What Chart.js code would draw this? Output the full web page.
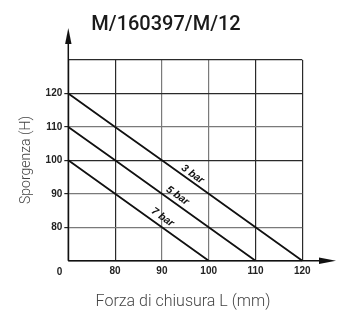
<!DOCTYPE html>
<html>
<head>
<meta charset="utf-8">
<script src="https://cdn.jsdelivr.net/npm/chart.js@4.4.1/dist/chart.umd.min.js"></script>
<style>
  body { margin: 0; background: #fff; }
  canvas { display: block; }
</style>
</head>
<body>
<canvas id="chart" width="342" height="313"></canvas>
<script>
// valori
const xLabels = ['0', '80', '90', '100', '110', '120'];
const yLabels = ['', '120', '110', '100', '90', '80', '0'];
const seriesNames = ['3 bar', '5 bar', '7 bar'];
const force3 = ['0', '80', '90', '100', '110', '120'];
const height3 = ['120', '110', '100', '90', '80', '0'];
const force5 = ['0', '80', '90', '100', '110'];
const height5 = ['110', '100', '90', '80', '0'];
const force7 = ['0', '80', '90', '100'];
const height7 = ['100', '90', '80', '0'];

const chartTitle = 'M/160397/M/12';
const xTitle = 'Forza di chiusura L (mm)';
const yTitle = 'Sporgenza (H)';

const pairs = (xs, ys) => xs.map((x, i) => ({ x: x, y: ys[i] }));

// posizione delle etichette lungo le linee (frazione + distanza)
const labelPlace = [{ t: 0.515, d: 6.5 }, { t: 0.56, d: 7.5 }, { t: 0.636, d: 8.5 }];

const decor = {
  id: 'decor',
  afterDraw(chart) {
    const ctx = chart.ctx;
    const a = chart.chartArea;
    ctx.save();

    // assi con frecce
    ctx.strokeStyle = '#111';
    ctx.fillStyle = '#111';
    ctx.lineWidth = 1.5;
    ctx.beginPath();
    ctx.moveTo(a.left, a.bottom);
    ctx.lineTo(a.left, 40);
    ctx.moveTo(a.left, a.bottom);
    ctx.lineTo(322, a.bottom);
    ctx.stroke();
    ctx.beginPath();
    ctx.moveTo(a.left, 28);
    ctx.lineTo(a.left - 3.2, 44);
    ctx.lineTo(a.left + 3.2, 44);
    ctx.closePath();
    ctx.fill();
    ctx.beginPath();
    ctx.moveTo(336, a.bottom);
    ctx.lineTo(319, a.bottom - 3.3);
    ctx.lineTo(319, a.bottom + 3.3);
    ctx.closePath();
    ctx.fill();

    // titolo
    ctx.fillStyle = '#1a1a1a';
    ctx.font = '500 20px Roboto';
    ctx.textAlign = 'center';
    ctx.textBaseline = 'alphabetic';
    ctx.fillText(chartTitle, 166, 30);

    // titoli assi
    ctx.fillStyle = '#444';
    ctx.font = '300 16px Roboto';
    ctx.fillText(xTitle, 183, 306);
    ctx.save();
    ctx.translate(26, 160);
    ctx.rotate(-Math.PI / 2);
    ctx.font = '300 14px Roboto';
    ctx.textBaseline = 'middle';
    ctx.fillText(yTitle, 0, 0);
    ctx.restore();

    // etichette delle linee
    ctx.fillStyle = '#111';
    ctx.font = 'italic bold 10.5px "Liberation Sans"';
    ctx.textBaseline = 'middle';
    chart.data.datasets.forEach((ds, i) => {
      const pts = chart.getDatasetMeta(i).data;
      const p0 = pts[0], p1 = pts[pts.length - 1];
      const pl = labelPlace[i];
      const px = p0.x + (p1.x - p0.x) * pl.t;
      const py = p0.y + (p1.y - p0.y) * pl.t;
      const ang = Math.atan2(p1.y - p0.y, p1.x - p0.x);
      ctx.save();
      ctx.translate(px, py);
      ctx.rotate(ang);
      ctx.fillText(ds.label, 0, -pl.d);
      ctx.restore();
    });
    ctx.restore();
  }
};

const lineStyle = { borderColor: '#111', borderWidth: 1.8, pointRadius: 0, tension: 0, fill: false };

new Chart(document.getElementById('chart'), {
  type: 'line',
  data: {
    datasets: [
      Object.assign({ label: seriesNames[0], data: pairs(force3, height3) }, lineStyle),
      Object.assign({ label: seriesNames[1], data: pairs(force5, height5) }, lineStyle),
      Object.assign({ label: seriesNames[2], data: pairs(force7, height7) }, lineStyle)
    ]
  },
  options: {
    responsive: false,
    animation: false,
    layout: { padding: { left: 38.3, right: 39.7, top: 60, bottom: 32.3 } },
    plugins: { legend: { display: false }, tooltip: { enabled: false }, title: { display: false } },
    scales: {
      x: {
        type: 'category',
        labels: xLabels,
        offset: false,
        border: { display: false },
        grid: {
          drawTicks: false,
          lineWidth: 1.2,
          color: c => (c.index === 2 || c.index === 3) ? '#7a7a7a' : '#2a2a2a'
        },
        ticks: {
          padding: 5,
          color: '#222',
          maxRotation: 0,
          autoSkip: false,
          font: { family: 'Liberation Sans', size: 10, weight: 'bold' },
          callback: (v, i) => i === 0 ? '' : xLabels[i]
        },
        afterFit: s => { s.height = 20; }
      },
      y: {
        type: 'category',
        labels: yLabels,
        offset: false,
        border: { display: false },
        grid: {
          lineWidth: 1.2,
          tickLength: 4,
          tickColor: c => (c.index === 0 || c.index === 6) ? 'rgba(0,0,0,0)' : '#222',
          color: c => (c.index === 2 || c.index === 4 || c.index === 5) ? '#7a7a7a' : '#2a2a2a'
        },
        ticks: {
          padding: 2,
          color: '#222',
          autoSkip: false,
          font: { family: 'Liberation Sans', size: 10, weight: 'bold' },
          callback: (v, i) => i === yLabels.length - 1 ? ['', '', '0'] : yLabels[i]
        },
        afterFit: s => { s.width = 30; }
      }
    }
  },
  plugins: [decor]
});
</script>
</body>
</html>
